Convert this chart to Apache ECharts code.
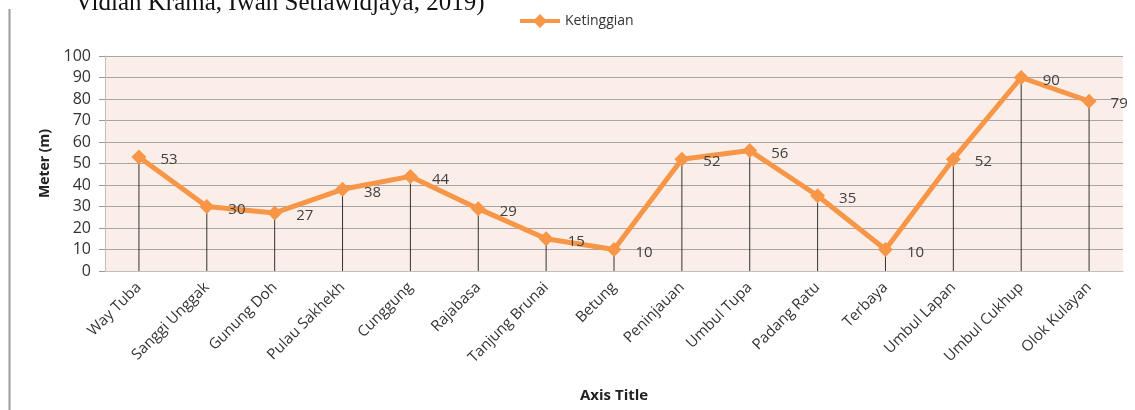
<!DOCTYPE html>
<html><head><meta charset="utf-8">
<script src="https://cdn.jsdelivr.net/npm/echarts@6/dist/echarts.min.js"></script>
<style>html,body{margin:0;padding:0;background:#fff}#c{width:1135px;height:410px}</style>
</head><body><div id="c"></div>
<script>
const categories = ["Way Tuba","Sanggi Unggak","Gunung Doh","Pulau Sakhekh","Cunggung","Rajabasa","Tanjung Brunai","Betung","Peninjauan","Umbul Tupa","Padang Ratu","Terbaya","Umbul Lapan","Umbul Cukhup","Olok Kulayan"];
const ketinggian = [53,30,27,38,44,29,15,10,52,56,35,10,52,90,79];
const yTicks = {min:0, max:100, interval:10};
const seriesName = "Ketinggian";
const yTitle = "Meter (m)";
const xTitle = "Axis Title";
const topText = "Vidian Krama, Iwan Setiawidjaya, 2019)";

const chart = echarts.init(document.getElementById('c'));
const font = '"Open Sans", "Noto Sans", sans-serif';
chart.setOption({
  animation:false,
  backgroundColor:'#fff',
  graphic:[
    {type:'text', left:75, top:-9, style:{text:topText, font:'25px "Liberation Serif", serif', fill:'#111'}},
    {type:'line', shape:{x1:9.5,y1:9,x2:9.5,y2:410}, style:{stroke:'#9a9a9a', lineWidth:2}},
    {type:'text', left:580, top:388, style:{text:xTitle, font:'bold 15px '+font, fill:'#222'}}
  ],
  legend:{
    top:9, left:515, itemWidth:40, itemHeight:14, itemGap:4,
    textStyle:{fontFamily:font, fontSize:14, color:'#333'},
    data:[{name:seriesName, icon:'path://M0,5 L15,5 L20,0 L25,5 L40,5 L40,9 L25,9 L20,14 L15,9 L0,9 Z'}]
  },
  grid:{left:105, right:12, top:56, bottom:139, show:true, backgroundColor:'#FBEEE8', borderWidth:0},
  xAxis:{
    type:'category', data:categories, boundaryGap:true,
    axisLine:{lineStyle:{color:'#BFBFBF', width:1}},
    axisTick:{show:true, alignWithLabel:true, length:0, lineStyle:{color:'#666'}},
    axisLabel:{rotate:45, fontFamily:font, fontSize:15, color:'#333', margin:14, interval:0}
  },
  yAxis:{
    type:'value', min:yTicks.min, max:yTicks.max, interval:yTicks.interval,
    name:yTitle, nameLocation:'middle', nameGap:53, nameRotate:90,
    nameTextStyle:{fontFamily:font, fontWeight:'bold', fontSize:14, color:'#222'},
    axisLine:{show:true, lineStyle:{color:'#BFBFBF'}},
    axisTick:{show:true, length:6, lineStyle:{color:'#999'}},
    axisLabel:{fontFamily:font, fontSize:16, color:'#333', margin:14},
    splitLine:{lineStyle:{color:'#A6A6A6', width:1}}
  },
  series:[
    {type:'bar', data:ketinggian, barWidth:1, itemStyle:{color:'#333'}, silent:true, legendHoverLink:false, z:1},
    {name:seriesName, type:'line', data:ketinggian, symbol:'diamond', symbolSize:15,
     lineStyle:{color:'#F79646', width:5}, itemStyle:{color:'#F79646'},
     label:{show:true, position:'right', distance:14, offset:[0,3], fontFamily:font, fontSize:15, color:'#404040'}, z:3}
  ]
});
</script></body></html>
